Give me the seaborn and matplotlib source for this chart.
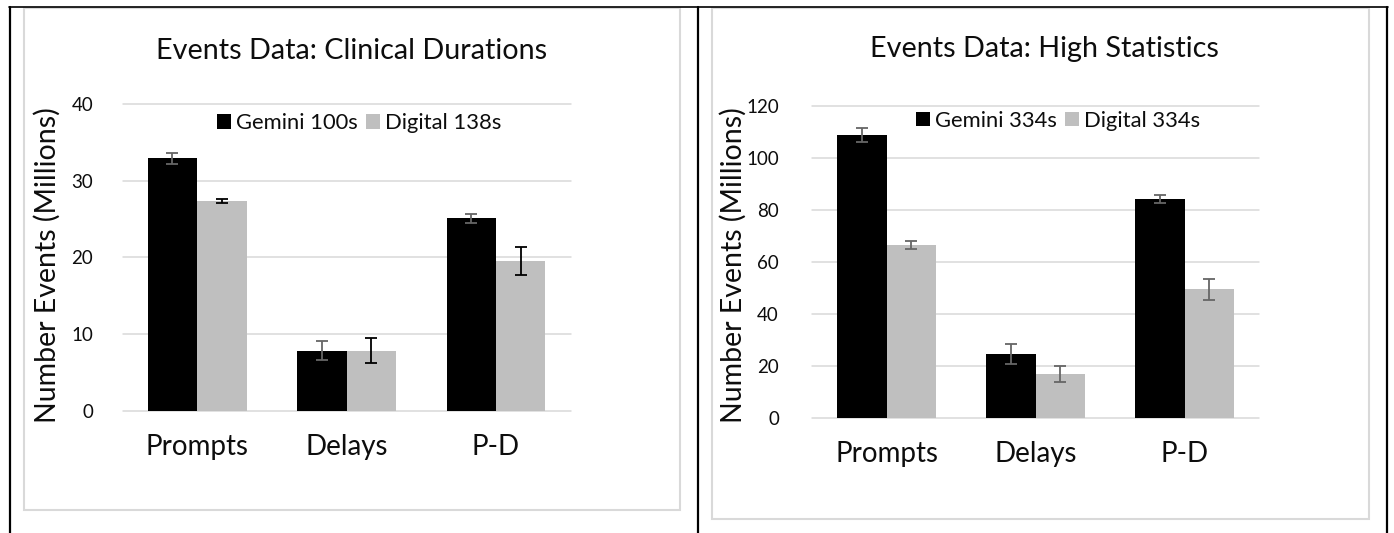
import matplotlib
matplotlib.use("Agg")
import matplotlib.pyplot as plt
from matplotlib.lines import Line2D
from matplotlib.patches import Rectangle
import numpy as np
import pandas as pd
import seaborn as sns

# ---- data -------------------------------------------------------------
categories = ["Prompts", "Delays", "P-D"]

clinical_series = ["Gemini 100s", "Digital 138s"]
clinical_gemini = [32.9, 7.85, 25.1]
clinical_gemini_err = [0.75, 1.3, 0.6]
clinical_digital = [27.35, 7.85, 19.5]
clinical_digital_err = [0.25, 1.65, 1.8]

highstat_series = ["Gemini 334s", "Digital 334s"]
highstat_gemini = [108.7, 24.4, 84.2]
highstat_gemini_err = [2.55, 3.85, 1.5]
highstat_digital = [66.4, 16.8, 49.4]
highstat_digital_err = [1.5, 3.25, 4.05]

clinical_yticks = [0, 10, 20, 30, 40]
highstat_yticks = [0, 20, 40, 60, 80, 100, 120]

# ---- style ------------------------------------------------------------
sns.set_theme(style="white")
plt.rcParams["font.family"] = ["Lato", "DejaVu Sans"]

BLACK = "#000000"
LIGHT = "#BFBFBF"
GRID = "#D9D9D9"
ERR_GREY = "#666666"
TEXT = "#0D0D0D"

W, H = 1394, 533
fig = plt.figure(figsize=(W / 100, H / 100), dpi=100)


def px_rect(x0, y0, x1, y1):
    """Pixel box (top-left origin) -> figure-fraction [left, bottom, w, h]."""
    return [x0 / W, 1 - y1 / H, (x1 - x0) / W, (y1 - y0) / H]


def draw_panel(ax, series, gemini, gemini_err, digital, digital_err,
               yticks, err_colors, legend_anchor, ylabel_xy, ytick_pad):
    df = pd.DataFrame({
        "Category": categories * 2,
        "Events": list(gemini) + list(digital),
        "Series": [series[0]] * 3 + [series[1]] * 3,
    })
    sns.barplot(data=df, x="Category", y="Events", hue="Series",
                order=categories, hue_order=series,
                palette=[BLACK, LIGHT], saturation=1, width=0.662,
                errorbar=None, linewidth=0, ax=ax)

    errs = [gemini_err, digital_err]
    for container, err, col in zip(ax.containers, errs, err_colors):
        xs = [p.get_x() + p.get_width() / 2 for p in container.patches]
        hs = [p.get_height() for p in container.patches]
        ax.errorbar(xs, hs, yerr=err, fmt="none", ecolor=col,
                    elinewidth=1.3, capsize=4.3, capthick=1.3, zorder=5)

    ax.set_xlim(-0.5, 2.5)
    ax.set_ylim(yticks[0], yticks[-1])
    ax.set_yticks(yticks)
    ax.set_xlabel("")
    ax.set_ylabel("Number Events (Millions)", fontsize=20.5, color=TEXT)
    ax.yaxis.set_label_coords(*ylabel_xy)
    for s in ax.spines.values():
        s.set_visible(False)
    ax.grid(axis="y", color=GRID, linewidth=1.1)
    ax.set_axisbelow(True)
    ax.tick_params(axis="both", length=0, labelcolor=TEXT)
    ax.tick_params(axis="y", pad=ytick_pad, labelsize=13.5)
    ax.tick_params(axis="x", pad=17, labelsize=20)
    for gl in ax.get_ygridlines():
        gl.set_clip_on(False)

    handles, labels = ax.get_legend_handles_labels()
    ax.legend(handles, labels, ncol=2, loc="center",
              bbox_to_anchor=legend_anchor, frameon=False, fontsize=15.8,
              handlelength=0.62, handleheight=0.62, handletextpad=0.22,
              columnspacing=0.4, borderpad=0, labelcolor=TEXT)


# chart areas (light grey frames)
fig.add_artist(Rectangle((24 / W, 1 - 510 / H), (680 - 24) / W, (510 - 8) / H,
                         transform=fig.transFigure, fill=False,
                         edgecolor=GRID, linewidth=1.5))
fig.add_artist(Rectangle((712 / W, 1 - 519 / H), (1369 - 712) / W, (519 - 8) / H,
                         transform=fig.transFigure, fill=False,
                         edgecolor=GRID, linewidth=1.5))

ax1 = fig.add_axes(px_rect(122.5, 104, 570.7, 410.7))
draw_panel(ax1, clinical_series, clinical_gemini, clinical_gemini_err,
           clinical_digital, clinical_digital_err, clinical_yticks,
           [ERR_GREY, BLACK], (0.528, 0.937), (-0.137, 0.475), 21)

ax2 = fig.add_axes(px_rect(812.3, 105.7, 1259.3, 417.7))
draw_panel(ax2, highstat_series, highstat_gemini, highstat_gemini_err,
           highstat_digital, highstat_digital_err, highstat_yticks,
           [ERR_GREY, ERR_GREY], (0.55, 0.951), (-0.147, 0.49), 24)

fig.text(352 / W, 1 - 59 / H, "Events Data: Clinical Durations",
         ha="center", va="baseline", fontsize=20.7, color=TEXT)
fig.text(1044 / W, 1 - 57 / H, "Events Data: High Statistics",
         ha="center", va="baseline", fontsize=20.7, color=TEXT)

# table cell borders
for x in (10, 698, 1386.5):
    fig.add_artist(Line2D([x / W, x / W], [0, 1 - 6.5 / H],
                          transform=fig.transFigure, color="black", lw=1.6))
fig.add_artist(Line2D([9 / W, 1387.5 / W], [1 - 6.5 / H, 1 - 6.5 / H],
                      transform=fig.transFigure, color="black", lw=1.2))

fig.savefig("out.png", dpi=100, facecolor="white")
